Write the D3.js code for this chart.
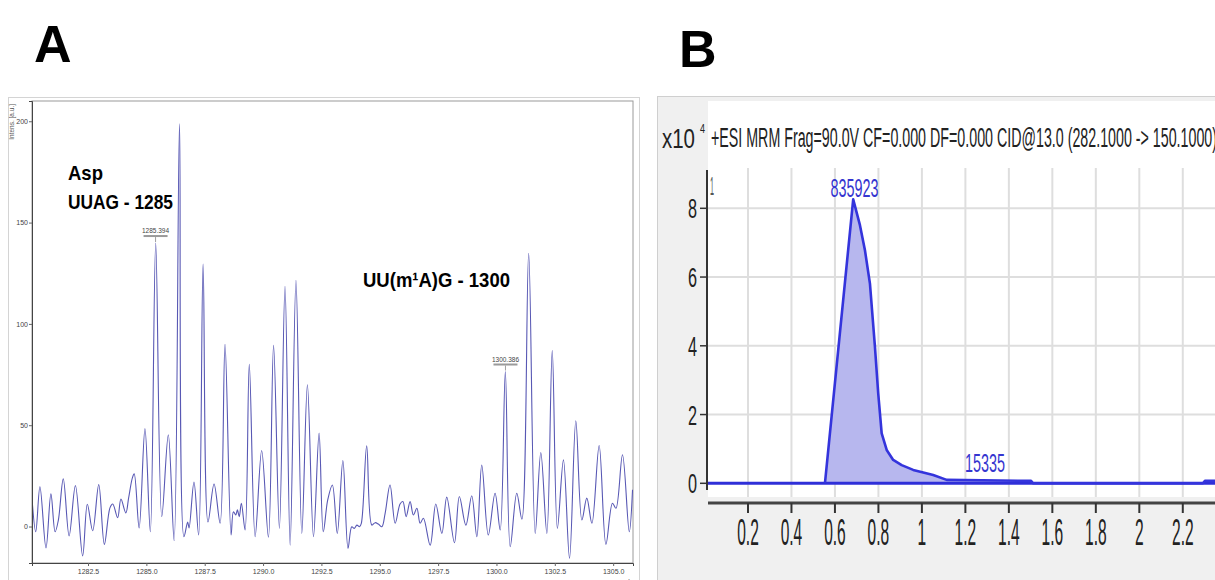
<!DOCTYPE html>
<html>
<head>
<meta charset="utf-8">
<script src="https://cdn.jsdelivr.net/npm/d3@7"></script>
<style>
  body { margin: 0; background: #fff; }
  svg { display: block; font-family: "Liberation Sans", Arial, sans-serif; }
</style>
</head>
<body>
<svg id="chart" width="1215" height="580"></svg>
<script>
/* Panel A: MALDI spectrum, m/z vs intensity (a.u.) */
const mzValues = [
  1280.11, 1280.26, 1280.44, 1280.70, 1280.91, 1281.09, 1281.23, 1281.44, 1281.69, 1281.96,
  1282.27, 1282.47, 1282.70, 1282.96, 1283.20, 1283.44, 1283.56, 1283.77, 1283.91, 1284.12,
  1284.24, 1284.40, 1284.48, 1284.69, 1284.94, 1285.17, 1285.40, 1285.66, 1285.94, 1286.19,
  1286.42, 1286.61, 1286.77, 1286.83, 1287.04, 1287.24, 1287.43, 1287.64, 1287.90, 1288.16,
  1288.37, 1288.63, 1288.73, 1288.83, 1288.90, 1288.98, 1289.07, 1289.23, 1289.41, 1289.66,
  1289.94, 1290.23, 1290.45, 1290.70, 1290.94, 1291.16, 1291.41, 1291.66, 1291.90, 1292.16,
  1292.40, 1292.58, 1292.77, 1292.97, 1293.18, 1293.42, 1293.64, 1293.80, 1293.91, 1294.02,
  1294.13, 1294.21, 1294.44, 1294.66, 1294.80, 1294.94, 1295.09, 1295.23, 1295.44, 1295.66,
  1295.87, 1295.99, 1296.13, 1296.30, 1296.44, 1296.59, 1296.73, 1296.87, 1297.16, 1297.40,
  1297.66, 1297.87, 1298.20, 1298.41, 1298.69, 1298.94, 1299.16, 1299.37, 1299.65, 1299.94,
  1300.16, 1300.38, 1300.59, 1300.87, 1301.09, 1301.38, 1301.66, 1301.90, 1302.16, 1302.39,
  1302.61, 1302.87, 1303.13, 1303.40, 1303.66, 1303.87, 1304.09, 1304.40, 1304.69, 1304.97,
  1305.12, 1305.40, 1305.69, 1305.83
];
const intensities = [
  12.3, -2.6, 19.6, -10.6, 16.1, -2.6, 3.2, 23.5, -4.6, 20.2,
  -14.5, 11.0, -2.1, 20.7, -8.8, 9.2, 11.1, 4.4, 13.6, 6.7,
  14.1, 24.0, 26.0, -0.7, 48.3, -2.6, 139.9, 4.9, 45.3, -7.0,
  198.8, -5.0, 2.2, -0.7, 22.0, -4.2, 129.5, 2.2, 21.0, 1.7,
  89.9, -4.2, 7.3, 5.7, 8.2, 4.9, 11.5, -1.7, 80.0, -5.0,
  37.5, -5.3, 89.4, -0.9, 118.6, -9.2, 121.5, -3.4, 70.0, -5.0,
  46.1, -2.6, 13.1, 20.5, -3.4, 32.6, -10.8, -0.1, -0.9, 0.7,
  -0.1, 1.6, 39.9, 0.7, 1.9, 1.2, -0.1, 6.5, 20.5, 1.6,
  11.1, 12.3, 4.9, 12.3, 5.7, 9.0, 1.6, 4.1, -9.2, 11.1,
  -3.4, 14.5, -8.0, 14.8, 0.7, 15.2, -5.0, 30.4, -4.2, 16.4,
  -1.7, 76.5, -10.0, 16.4, 3.6, 134.9, -3.4, 36.5, -3.4, 86.9,
  -0.9, 32.9, -15.7, 52.2, 3.2, 14.0, 1.6, 40.0, -8.8, 11.5,
  9.0, 35.4, -2.6, 18.1
];
const mzTicks = [1282.5, 1285.0, 1287.5, 1290.0, 1292.5, 1295.0, 1297.5, 1300.0, 1302.5, 1305.0];
const intensTicks = [0, 50, 100, 150, 200];
const peakLabels = [
  { mz: 1285.394, value: 139.9 },
  { mz: 1300.386, value: 76.5 }
];

/* Panel B: MRM chromatogram, time (min) vs counts (x10^4) */
const rtValues = [0.016, 0.554, 0.684, 0.715, 0.738, 0.761, 0.784, 0.799, 0.815, 0.838,
                  0.868, 0.907, 0.960, 1.052, 1.114, 1.502, 1.511, 2.293, 2.302, 2.35];
const counts   = [0, 0, 8.26, 7.51, 6.78, 5.81, 3.97, 2.62, 1.45, 0.97,
                  0.68, 0.53, 0.39, 0.24, 0.10, 0.07, 0, 0, 0.07, 0.07];
const rtTicks = [0.2, 0.4, 0.6, 0.8, 1, 1.2, 1.4, 1.6, 1.8, 2, 2.2];
const countTicks = [0, 2, 4, 6, 8];

const svg = d3.select("#chart");

/* ---------------- Panel A ---------------- */
const xA = d3.scaleLinear().domain([1280.1, 1305.85]).range([32, 633]);
const yA = d3.scaleLinear().domain([-18, 210]).range([563, 101]);

svg.append("rect")
  .attr("x", 8.5).attr("y", 97.5).attr("width", 631).attr("height", 490)
  .attr("fill", "#fff").attr("stroke", "#d4d4d4");

svg.append("rect")
  .attr("x", 32).attr("y", 101).attr("width", 601).attr("height", 462)
  .attr("fill", "none").attr("stroke", "#9a9a9a").attr("stroke-width", 1);

svg.append("defs").append("clipPath").attr("id", "clipA")
  .append("rect").attr("x", 32).attr("y", 101).attr("width", 601).attr("height", 462);

const spectrum = mzValues.map((m, i) => [m, intensities[i]]);
svg.append("path")
  .attr("clip-path", "url(#clipA)")
  .attr("d", d3.line()
    .x(d => xA(d[0])).y(d => yA(d[1]))
    .curve(d3.curveCatmullRom.alpha(0.5))(spectrum))
  .attr("fill", "none")
  .attr("stroke", "#5858b4")
  .attr("stroke-width", 1.1);

/* axes */
const gyA = svg.append("g").attr("transform", "translate(32,0)");
gyA.call(d3.axisLeft(yA).tickValues(d3.range(-10, 211, 10)).tickSize(2).tickFormat(""));
gyA.call(d3.axisLeft(yA).tickValues(intensTicks).tickSize(3).tickPadding(1).tickFormat(d3.format("d")));
gyA.selectAll(".domain").attr("stroke", "#444");
gyA.selectAll("line").attr("stroke", "#666");
gyA.selectAll("text").attr("font-size", 7).attr("fill", "#444");

const gxA = svg.append("g").attr("transform", "translate(0,563)");
gxA.call(d3.axisBottom(xA).tickValues(d3.range(1280.5, 1305.9, 0.5)).tickSize(2).tickFormat(""));
gxA.call(d3.axisBottom(xA).tickValues(mzTicks).tickSize(3).tickPadding(3).tickFormat(d3.format(".1f")));
gxA.selectAll(".domain").attr("stroke", "#444");
gxA.selectAll("line").attr("stroke", "#666");
gxA.selectAll("text").attr("font-size", 7).attr("fill", "#444");

svg.append("text")
  .attr("transform", "translate(14,104) rotate(-90)")
  .attr("text-anchor", "end")
  .attr("font-size", 6.5).attr("fill", "#555")
  .text("Intens. [a.u.]");

svg.append("text")
  .attr("x", 627).attr("y", 584)
  .attr("text-anchor", "middle")
  .attr("font-size", 8).attr("fill", "#555")
  .text("m/z");

/* peak labels */
peakLabels.forEach(p => {
  const px = xA(p.mz);
  const py = yA(p.value);
  svg.append("line")
    .attr("x1", px).attr("x2", px).attr("y1", py - 6).attr("y2", py - 1)
    .attr("stroke", "#888").attr("stroke-width", 0.8);
  svg.append("rect")
    .attr("x", px - 12).attr("y", py - 8).attr("width", 24).attr("height", 2)
    .attr("fill", "#9a9a9a");
  svg.append("text")
    .attr("x", px).attr("y", py - 10)
    .attr("text-anchor", "middle")
    .attr("font-size", 6.5).attr("fill", "#444")
    .text(p.mz.toFixed(3));
});

/* annotations */
svg.append("text").attr("x", 68).attr("y", 180)
  .attr("font-size", 21).attr("font-weight", "bold")
  .attr("textLength", 35).attr("lengthAdjust", "spacingAndGlyphs")
  .text("Asp");
svg.append("text").attr("x", 68).attr("y", 209)
  .attr("font-size", 21).attr("font-weight", "bold")
  .attr("textLength", 105).attr("lengthAdjust", "spacingAndGlyphs")
  .text("UUAG - 1285");
svg.append("text").attr("x", 363).attr("y", 287)
  .attr("font-size", 21).attr("font-weight", "bold")
  .attr("textLength", 147).attr("lengthAdjust", "spacingAndGlyphs")
  .text("UU(m¹A)G - 1300");

svg.append("text").attr("x", 34).attr("y", 62)
  .attr("font-size", 52).attr("font-weight", "bold")
  .text("A");

/* ---------------- Panel B ---------------- */
const xB = d3.scaleLinear().domain([0, 2.35]).range([704.5, 1215.4]);
const yB = d3.scaleLinear().domain([0, 8]).range([483.3, 208.3]);

svg.append("rect")
  .attr("x", 657.5).attr("y", 96.5).attr("width", 560).attr("height", 490)
  .attr("fill", "#f0f0f0").attr("stroke", "#cfcfcf");
svg.append("rect")
  .attr("x", 708).attr("y", 101).attr("width", 510).attr("height", 396)
  .attr("fill", "#fff");

/* grid */
svg.append("g").selectAll("line").data(rtTicks).join("line")
  .attr("x1", d => xB(d)).attr("x2", d => xB(d))
  .attr("y1", 168).attr("y2", 497)
  .attr("stroke", "#dedede").attr("stroke-width", 2);
svg.append("g").selectAll("line").data(countTicks.filter(d => d > 0)).join("line")
  .attr("x1", 708).attr("x2", 1215)
  .attr("y1", d => yB(d)).attr("y2", d => yB(d))
  .attr("stroke", "#dedede").attr("stroke-width", 2);

/* chromatogram */
const chrom = rtValues.map((t, i) => [t, counts[i]]);
const peakPart = chrom.filter(d => d[0] >= 0.55 && d[0] <= 1.52);
svg.append("path")
  .attr("d", d3.area().x(d => xB(d[0])).y0(yB(0)).y1(d => yB(d[1]))(peakPart))
  .attr("fill", "#b7b7ee");
svg.append("line")
  .attr("x1", 708).attr("x2", 1215).attr("y1", yB(0)).attr("y2", yB(0))
  .attr("stroke", "#2f2fd8").attr("stroke-width", 3);
svg.append("path")
  .attr("d", d3.line().x(d => xB(d[0])).y(d => yB(d[1]))(chrom.filter(d => d[0] >= 0.5)))
  .attr("fill", "none")
  .attr("stroke", "#3434dc").attr("stroke-width", 2.6)
  .attr("stroke-linejoin", "round");

/* y axis */
svg.append("line")
  .attr("x1", 707).attr("x2", 707).attr("y1", 170).attr("y2", 490)
  .attr("stroke", "#333").attr("stroke-width", 2);
const yTickG = svg.append("g").selectAll("g").data(countTicks).join("g")
  .attr("transform", d => `translate(0,${yB(d)})`);
yTickG.append("line").attr("x1", 700).attr("x2", 707)
  .attr("stroke", "#333").attr("stroke-width", 1.5);
yTickG.append("text")
  .attr("transform", "translate(697,10) scale(0.58,1)")
  .attr("text-anchor", "end")
  .attr("font-size", 28).attr("fill", "#222")
  .text(d => d);

/* x axis */
svg.append("line")
  .attr("x1", 708).attr("x2", 1215).attr("y1", 503).attr("y2", 503)
  .attr("stroke", "#444").attr("stroke-width", 3);
const xTickG = svg.append("g").selectAll("g").data(rtTicks).join("g")
  .attr("transform", d => `translate(${xB(d)},0)`);
xTickG.append("line").attr("y1", 503).attr("y2", 513)
  .attr("stroke", "#333").attr("stroke-width", 2);
xTickG.append("text")
  .attr("transform", "translate(0,545) scale(0.42,1)")
  .attr("text-anchor", "middle")
  .attr("font-size", 37).attr("fill", "#222")
  .text(d => d3.format("~g")(d));

/* header and labels */
svg.append("text").attr("x", 662).attr("y", 148)
  .attr("font-size", 27).attr("fill", "#222")
  .attr("textLength", 33).attr("lengthAdjust", "spacingAndGlyphs")
  .text("x10");
svg.append("text").attr("x", 700).attr("y", 133)
  .attr("font-size", 13).attr("fill", "#222")
  .attr("textLength", 5).attr("lengthAdjust", "spacingAndGlyphs")
  .text("4");
svg.append("text").attr("x", 711).attr("y", 147)
  .attr("font-size", 27).attr("fill", "#222")
  .attr("textLength", 506).attr("lengthAdjust", "spacingAndGlyphs")
  .text("+ESI MRM Frag=90.0V CF=0.000 DF=0.000 CID@13.0 (282.1000 -> 150.1000)");
svg.append("text").attr("x", 710).attr("y", 195)
  .attr("font-size", 26).attr("fill", "#555")
  .attr("textLength", 4).attr("lengthAdjust", "spacingAndGlyphs")
  .text("1");
svg.append("text").attr("x", xB(0.69)).attr("y", 197)
  .attr("text-anchor", "middle")
  .attr("font-size", 26).attr("fill", "#3535d0")
  .attr("textLength", 48).attr("lengthAdjust", "spacingAndGlyphs")
  .text("835923");
svg.append("text").attr("x", 965).attr("y", 472)
  .attr("font-size", 26).attr("fill", "#3535d0")
  .attr("textLength", 40).attr("lengthAdjust", "spacingAndGlyphs")
  .text("15335");

svg.append("text").attr("x", 679).attr("y", 67)
  .attr("font-size", 52).attr("font-weight", "bold")
  .text("B");
</script>
</body>
</html>
